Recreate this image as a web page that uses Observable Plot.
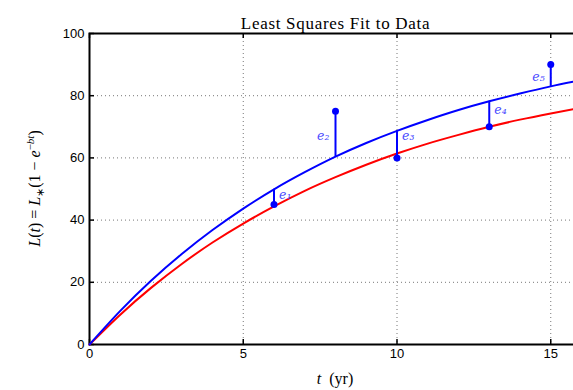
<!DOCTYPE html>
<html>
<head>
<meta charset="utf-8">
<script src="https://cdn.jsdelivr.net/npm/d3@7"></script>
<script src="https://cdn.jsdelivr.net/npm/@observablehq/plot@0.6"></script>
<style>
  html, body { margin: 0; padding: 0; background: #fff; overflow: hidden; width: 573px; height: 390px; }
  #chart { width: 573px; height: 390px; overflow: hidden; }
  #chart svg { max-width: none !important; }
</style>
</head>
<body>
<div id="chart"></div>
<script>
// Data
const dataT = [6, 8, 10, 13, 15];
const dataL = [45, 75, 60, 70, 90];
const fitAtData = [49.9, 60.4, 68.7, 78.2, 83.0];   // blue curve at the data times
const residLabels = ["e₁", "e₂", "e₃", "e₄", "e₅"];
const labelL = [48, 67, 67, 75.3, 86];
const labelSide = ["right", "left", "right", "right", "left"];

const curveT = [0, 1, 2, 3, 4, 5, 6, 7, 8, 9, 10, 11, 12, 13, 14, 15, 16];
const blueL = [0, 10.8, 20.5, 29.1, 36.8, 43.7, 49.9, 55.4, 60.4, 64.8, 68.7, 72.2, 75.4, 78.2, 80.7, 83.0, 85.0];
const redL  = [0, 9.6, 18.2, 25.9, 32.8, 38.9, 44.4, 49.4, 53.8, 57.8, 61.4, 64.6, 67.4, 70.0, 72.3, 74.3, 76.2];

const xTicks = [0, 5, 10, 15];
const yTicks = [0, 20, 40, 60, 80, 100];

const points = dataT.map((t, i) => ({t, L: dataL[i], fit: fitAtData[i], label: residLabels[i], ly: labelL[i], side: labelSide[i]}));
const blue = curveT.map((t, i) => ({t, L: blueL[i]}));
const red = curveT.map((t, i) => ({t, L: redL[i]}));

const sans = "'Liberation Sans', Arial, sans-serif";
const serif = "'Liberation Serif', 'Times New Roman', serif";

const W = 601, H = 390, ML = 89, MR = 20, MT = 33, MB = 46;
const frameH = H - MT - MB, frameW = W - ML - MR, TK = 5;

const plot = Plot.plot({
  width: W,
  height: H,
  marginLeft: ML,
  marginRight: MR,
  marginTop: MT,
  marginBottom: MB,
  style: {fontFamily: sans, fontSize: "13px", color: "#000", background: "#fff", overflow: "visible", maxWidth: "none"},
  x: {domain: [0, 16], ticks: xTicks},
  y: {domain: [0, 100], ticks: yTicks},
  marks: [
    Plot.gridX(xTicks.filter(d => d > 0), {stroke: "#777", strokeOpacity: 1, strokeDasharray: "1,3"}),
    Plot.gridY(yTicks.filter(d => d > 0 && d < 100), {stroke: "#777", strokeOpacity: 1, strokeDasharray: "1,3"}),
    Plot.axisX(xTicks, {anchor: "bottom", tickSize: 0, tickPadding: 4, label: null, fontSize: 13}),
    Plot.axisY(yTicks, {anchor: "left", tickSize: 0, tickPadding: 5, label: null, fontSize: 13}),
    // inward tick marks
    Plot.tickX(xTicks, {x: d => d, insetTop: frameH - TK, stroke: "#000", strokeWidth: 1.5}),
    Plot.tickX(xTicks, {x: d => d, insetBottom: frameH - TK, stroke: "#000", strokeWidth: 1.5}),
    Plot.tickY(yTicks, {y: d => d, insetRight: frameW - TK, stroke: "#000", strokeWidth: 1.5}),
    Plot.frame({stroke: "#000", strokeWidth: 2}),
    Plot.line(red, {x: "t", y: "L", stroke: "#ff0000", strokeWidth: 2, curve: "natural"}),
    Plot.line(blue, {x: "t", y: "L", stroke: "#0000ff", strokeWidth: 2, curve: "natural"}),
    Plot.ruleX(points, {x: "t", y1: "L", y2: "fit", stroke: "#0000ff", strokeWidth: 2}),
    Plot.dot(points, {x: "t", y: "L", r: 3.5, fill: "#0000ff", stroke: "none"}),
    Plot.text(points.filter(d => d.side === "right"), {x: "t", y: "ly", text: "label", textAnchor: "start", dx: 5, fill: "#4b4bff", fontFamily: "'DejaVu Serif', serif", fontStyle: "italic", fontSize: 12.5}),
    Plot.text(points.filter(d => d.side === "left"), {x: "t", y: "ly", text: "label", textAnchor: "end", dx: -6, fill: "#4b4bff", fontFamily: "'DejaVu Serif', serif", fontStyle: "italic", fontSize: 12.5}),
    Plot.text(["Least Squares Fit to Data"], {frameAnchor: "top", dy: -17, fontFamily: serif, fontSize: 17, fill: "#000", style: "letter-spacing:0.7px"})
  ]
});

document.getElementById("chart").appendChild(plot);
// widen the title slightly to match the reference's serif face
d3.select(plot).selectAll("text").filter(function() { return this.textContent === "Least Squares Fit to Data"; }).style("letter-spacing", "0.7px");

// Rich-text axis labels (italic math with sub/superscripts)
const svg = d3.select(plot);
const fx = plot.scale("x");
const fy = plot.scale("y");
const cx = (fx.apply(0) + fx.apply(16)) / 2;
const cy = (fy.apply(0) + fy.apply(100)) / 2;

const xl = svg.append("text")
  .attr("x", cx).attr("y", 384)
  .attr("text-anchor", "middle")
  .attr("font-family", serif).attr("font-size", 16).attr("fill", "#000");
xl.append("tspan").attr("font-style", "italic").text("t");
xl.append("tspan").text("  (yr)").attr("xml:space", "preserve").style("white-space", "pre");

const yl = svg.append("text")
  .attr("transform", `translate(40,${cy}) rotate(-90)`)
  .attr("text-anchor", "middle")
  .attr("font-family", serif).attr("font-size", 16).attr("fill", "#000");
yl.append("tspan").attr("font-style", "italic").text("L");
yl.append("tspan").text("(");
yl.append("tspan").attr("font-style", "italic").text("t");
yl.append("tspan").text(") = ");
yl.append("tspan").attr("font-style", "italic").text("L");
yl.append("tspan").attr("font-size", 11).attr("dy", 4).text("∗");
yl.append("tspan").attr("dy", -4).text("(1 − ");
yl.append("tspan").attr("font-style", "italic").text("e");
yl.append("tspan").attr("font-size", 11).attr("dy", -6).text("−");
yl.append("tspan").attr("font-size", 11).attr("font-style", "italic").text("bt");
yl.append("tspan").attr("dy", 6).text(")");
</script>
</body>
</html>
